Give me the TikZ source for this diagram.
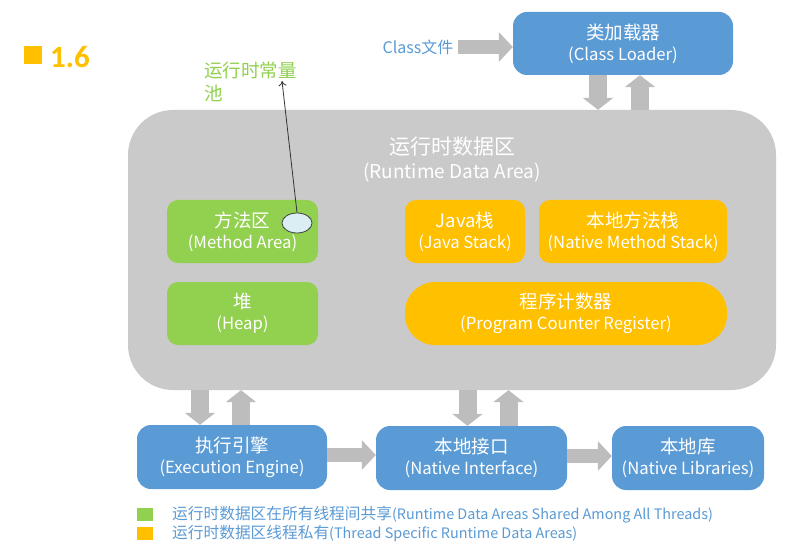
\documentclass[tikz,border=0pt]{standalone}
\usepackage{fontspec}
\setmainfont{Noto Sans CJK SC}
\newfontfamily\lat{Carlito}
\usetikzlibrary{arrows.meta,shapes.geometric}
\definecolor{bx}{HTML}{5B9BD5}
\definecolor{gr}{HTML}{92D050}
\definecolor{org}{HTML}{FFC000}
\definecolor{area}{HTML}{CACACA}
\definecolor{agray}{HTML}{BDBDBD}
\definecolor{ell}{HTML}{DAEEF3}
\newcommand\bt[2]{{\fontsize{18.5}{21}\selectfont #1}\\{\fontsize{16.7}{21}\selectfont #2}}
\begin{document}
\begin{tikzpicture}[x=1pt,y=-1pt,
  box/.style={rectangle,rounded corners=14pt,align=center,text=white,inner sep=0pt,
    font=\fontsize{16.7}{21}\selectfont},
  bluebox/.style={box,fill=bx},
  greenbox/.style={box,fill=gr,rounded corners=11pt},
  orangebox/.style={box,fill=org,rounded corners=11pt},
  blockarrow/.style={draw=agray,line width=14pt,-{Triangle[width=29pt,length=14pt]}},
  blockv/.style={draw=agray,line width=18pt,-{Triangle[width=30pt,length=12pt]}},
  legsq/.style={rectangle,minimum width=16pt,minimum height=13pt,inner sep=0pt},
  legtext/.style={anchor=west,inner sep=0pt,text=bx,font=\fontsize{14.4}{16}\selectfont}
]
\useasboundingbox (0,0) rectangle (799,553);
\fill[white] (0,0) rectangle (799,553);

% heading
\node[rectangle,fill=org,minimum size=18pt,inner sep=0pt] (hsq) at (33,55) {};
\node[anchor=west,inner sep=0pt,text=org,font=\lat\bfseries\fontsize{31}{31}\selectfont] (htxt) at (50,57) {1.6};

% class loader
\node[bluebox,minimum width=220pt,minimum height=63pt] (cl) at (623,43.5) {\bt{类加载器}{(Class Loader)}};
\node[inner sep=0pt,text=bx,font=\fontsize{16}{18}\selectfont] (cf) at (418,47) {Class文件};
\draw[blockarrow] ([xshift=4pt]cf.east |- 0,47) -- (cl.west |- 0,47);

% runtime data area
\node[rectangle,rounded corners=45pt,fill=area,minimum width=648pt,minimum height=280pt,inner sep=0pt] (rda) at (452,250) {};
\node[text=white,inner sep=0pt,align=center,font=\fontsize{19}{24}\selectfont] (rdat) at (452,160) {{\fontsize{21}{24}\selectfont 运行时数据区}\\(Runtime Data Area)};

\draw[blockv] ([xshift=-25pt]cl.south) -- ([xshift=-25pt]cl.south |- rda.north);
\draw[blockv] ([xshift=17pt]cl.south |- rda.north) -- ([xshift=17pt]cl.south);

% inner boxes
\node[greenbox,minimum width=151pt,minimum height=63pt] (ma) at (242.5,231.5) {\bt{方法区}{(Method Area)}};
\node[greenbox,minimum width=151pt,minimum height=63pt] (hp) at (242.5,313.5) {\bt{堆}{(Heap)}};
\node[orangebox,minimum width=120pt,minimum height=63pt] (js) at (465,231.5) {\bt{Java栈}{(Java Stack)}};
\node[orangebox,minimum width=188pt,minimum height=63pt] (nms) at (633,231.5) {\bt{本地方法栈}{(Native Method Stack)}};
\node[orangebox,rounded corners=30pt,minimum width=322pt,minimum height=63pt] (pc) at (566,313.5) {\bt{程序计数器}{(Program Counter Register)}};

% constant pool
\node[ellipse,draw=black!75,fill=ell,line width=0.8pt,minimum width=30pt,minimum height=20pt,inner sep=0pt] (cp) at (297,223) {};
\node[anchor=north west,inner sep=0pt,text=gr,align=left,font=\fontsize{18.5}{22.5}\selectfont] (pool) at (204,62) {运行时常量\\池};
\coordinate (pooltip) at (282,81);
\draw[black!80,line width=0.8pt,-{To[length=5pt,width=8pt]}] (cp.north) -- (pooltip);

% bottom boxes
\node[bluebox,minimum width=190pt,minimum height=64pt] (ee) at (232,457) {\bt{执行引擎}{(Execution Engine)}};
\node[bluebox,minimum width=191pt,minimum height=64pt] (ni) at (471.5,458) {\bt{本地接口}{(Native Interface)}};
\node[bluebox,minimum width=152pt,minimum height=64pt] (nl) at (688,458) {\bt{本地库}{(Native Libraries)}};

\draw[blockv] ([xshift=-32pt]ee.north |- rda.south) -- ([xshift=-32pt]ee.north);
\draw[blockv] ([xshift=9pt]ee.north) -- ([xshift=9pt]ee.north |- rda.south);
\draw[blockv] ([xshift=-4pt]ni.north |- rda.south) -- ([xshift=-4pt]ni.north);
\draw[blockv] ([xshift=37pt]ni.north) -- ([xshift=37pt]ni.north |- rda.south);

\draw[blockarrow] ([yshift=2pt]ee.east) -- ([yshift=2pt]ee.east -| ni.west);
\draw[blockarrow] ([yshift=2pt]ni.east) -- ([yshift=2pt]ni.east -| nl.west);

% legend
\node[legsq,fill=gr] (lg1) at (145,514) {};
\node[legsq,fill=org] (lg2) at (145,533) {};
\node[legtext] (lt1) at (172,515) {{\fontsize{15.7}{16}\selectfont 运行时数据区在所有线程间共享}(Runtime Data Areas Shared Among All Threads)};
\node[legtext] (lt2) at (172,534) {{\fontsize{15.7}{16}\selectfont 运行时数据区线程私有}(Thread Specific Runtime Data Areas)};
\end{tikzpicture}
\end{document}
